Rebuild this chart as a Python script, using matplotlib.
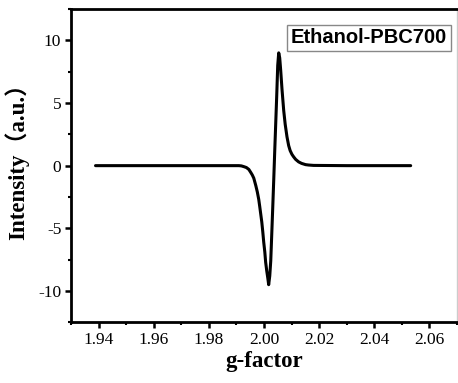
import matplotlib
matplotlib.use("Agg")
import matplotlib.pyplot as plt
from matplotlib.ticker import MultipleLocator, FormatStrFormatter

plt.rcParams['axes.unicode_minus'] = False

# g-factor values
g_factor = [1.9389, 1.9600, 1.9800, 1.9909, 1.9918, 1.9927, 1.99361, 1.9945,
            1.99523, 1.99577, 1.9963, 1.99704, 1.99758, 1.9981, 1.99848,
            1.99884, 1.9992, 1.99957, 1.9999, 2.0003, 2.0006,
            2.0010, 2.0014, 2.0017, 2.00209, 2.00245, 2.00281, 2.00318, 2.00354,
            2.0039, 2.00426, 2.00462, 2.00498, 2.00534, 2.0057, 2.00606, 2.00653,
            2.00715, 2.00769, 2.00834, 2.00895, 2.00949, 2.01014, 2.01076,
            2.01148, 2.01256, 2.01364, 2.01509, 2.01617, 2.01798, 2.0300, 2.0532]
intensity = [0, 0, 0, 0, -0.02, -0.08, -0.15, -0.3,
             -0.55, -0.75, -1.0, -1.6, -2.1, -2.7, -3.3,
             -3.9, -4.5, -5.3, -6.1, -6.9, -7.7,
             -8.4, -9.0, -9.5, -8.8, -7.6, -5.5, -3.3, -1.1,
             1.2, 3.4, 5.6, 8.0, 9.0, 8.6, 7.6, 6.1,
             4.4, 3.3, 2.3, 1.6, 1.2, 0.9, 0.7,
             0.5, 0.3, 0.18, 0.08, 0.05, 0.02, 0, 0]
sample_label = "Ethanol-PBC700"
x_label = "g-factor"
y_label = "Intensity\uff08a.u.\uff09"

fig = plt.figure(figsize=(4.58, 3.83), dpi=100)
ax = fig.add_axes([0.155, 0.1585, 0.8428, 0.818])

ax.plot(g_factor, intensity, color='black', linewidth=2.2,
        solid_joinstyle='round', solid_capstyle='round')

ax.set_xlim(1.93, 2.07)
ax.set_ylim(-12.5, 12.5)
ax.xaxis.set_major_locator(MultipleLocator(0.02))
ax.xaxis.set_minor_locator(MultipleLocator(0.01))
ax.xaxis.set_major_formatter(FormatStrFormatter('%.2f'))
ax.yaxis.set_major_locator(MultipleLocator(5))
ax.yaxis.set_minor_locator(MultipleLocator(2.5))

for side in ['left', 'bottom', 'top']:
    ax.spines[side].set_linewidth(2.0)
ax.spines['right'].set_linewidth(1.0)
ax.spines['right'].set_color('#cccccc')

ax.tick_params(which='major', direction='out', length=4, width=1.8, pad=3,
               labelsize=12.5, top=False, right=False)
ax.tick_params(which='minor', direction='out', length=2.5, width=1.5,
               top=False, right=False)
for lab in ax.get_xticklabels() + ax.get_yticklabels():
    lab.set_fontfamily('Liberation Serif')

ax.set_xlabel(x_label, fontfamily='Liberation Serif', fontweight='bold',
              fontsize=16.5, labelpad=2)
ax.set_ylabel(y_label, family=['Liberation Serif', 'Noto Sans CJK SC'],
              fontweight='bold', fontsize=16.5)
ax.yaxis.set_label_coords(-0.108, 0.53)

fig.text(0.8057, 0.9008, sample_label, ha='center', va='center',
         fontfamily='Liberation Sans', fontweight='bold', fontsize=14.5,
         bbox=dict(boxstyle='square,pad=0.18', facecolor='white',
                   edgecolor='#888888', linewidth=1.0))

fig.savefig('out.png', dpi=100)
